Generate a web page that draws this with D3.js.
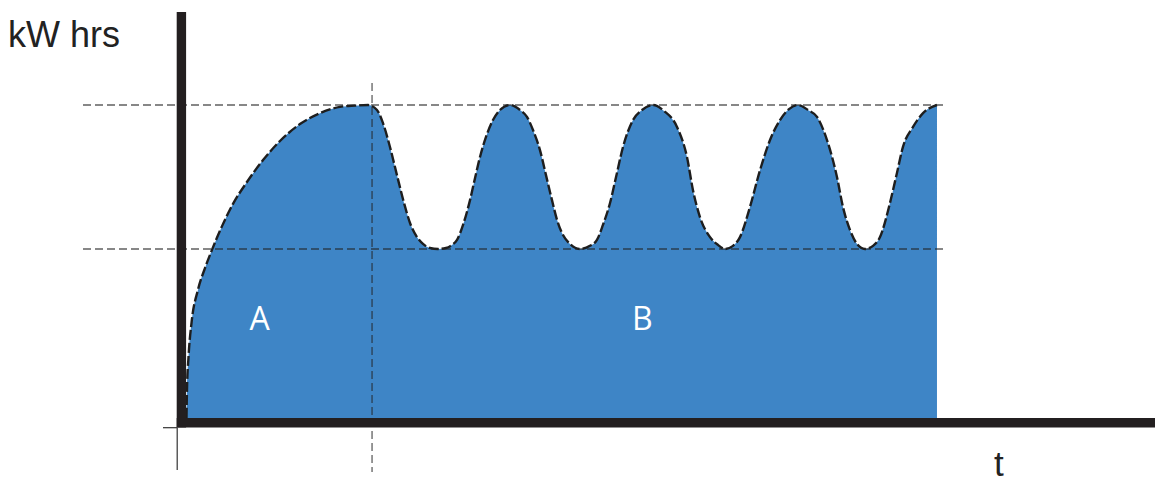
<!DOCTYPE html>
<html><head><meta charset="utf-8">
<script src="https://cdn.jsdelivr.net/npm/d3@7/dist/d3.min.js"></script>
<style>html,body{margin:0;padding:0;background:#fff;overflow:hidden} svg{display:block}</style>
</head><body>
<svg id="chart" width="1155" height="484"></svg>
<script>
// ---- data ----
const rampHours = [0.05, 0.1, 0.26, 0.57, 1.24, 1.96, 2.68, 3.72, 4.85, 6.29, 7.95, 9.7, 11.76, 13.83, 15.89, 17.44, 18.78];
const rampKw    = [0, 8.9, 19.5, 30.4, 41, 47.9, 53.7, 61.3, 68.4, 75.4, 82.4, 88.5, 93.9, 97.4, 99.4, 99.8, 100];

const cycleHours = [19.71, 20.33, 21.05, 21.77, 22.5, 23.12, 23.84, 24.46, 25.18, 26.01,
  26.83, 27.45, 27.97, 28.59, 29.31, 29.83, 30.34, 30.96, 31.68, 32.4, 33.44,
  34.47, 35.19, 35.81, 36.53, 37.15, 37.77, 38.29, 38.8, 39.63, 40.66,
  41.69, 42.41, 43.03, 43.76, 44.38, 45.1, 46.13, 47.06, 48.19,
  49.33, 50.67, 51.7, 52.32, 53.04, 54.08, 54.9, 55.62,
  56.45, 57.17, 58.2, 59.24, 60.27, 61.3, 62.23, 63.16,
  64.19, 65.12, 66.15, 67.18, 67.8, 68.52, 69.25, 70.07,
  70.9, 71.62, 72.65, 73.37, 73.99, 75.03, 76.06, 77.5];
const cycleKw = [98.4, 94.2, 86.6, 77.6, 68.7, 62.3, 57.8, 55.6, 54.3, 54,
  54.3, 55.3, 56.9, 61.7, 69.6, 76.7, 83.4, 89.8, 95.2, 98.4, 100,
  98.4, 96.2, 92, 85.6, 77.6, 69.6, 63.3, 59.1, 55.6, 54,
  55, 56.9, 61.7, 68.7, 77, 86.6, 95.2, 98.4, 100,
  98.1, 93, 83.4, 72.8, 64.2, 57.8, 55.3, 54,
  55, 57.8, 67.4, 79.2, 88.8, 95.2, 98.7, 100,
  98.4, 96.2, 88.8, 77, 67.4, 60.1, 55.6, 54,
  55, 57.8, 68.7, 78.3, 86.6, 93, 97.4, 100];

const peakLevel = 100;
const baseLevel = 54;
const transitionHour = 19.2;
const regionLabels = ["A", "B"];
const regionLabelHours = [7.6, 47.1];
const regionLabelKw = 32;
const yAxisTitle = "kW hrs";
const xAxisTitle = "t";

// ---- build ----
const hours = rampHours.concat(cycleHours);
const kw = rampKw.concat(cycleKw);
const data = hours.map((h, i) => ({h, k: kw[i]}));

const svg = d3.select("#chart");
const x = d3.scaleLinear().domain([0, 100]).range([186, 1155]);
const y = d3.scaleLinear().domain([0, 100]).range([418, 105]);

const axisColor = "#231f20";
const fillColor = "#3e85c6";

// area fill
const area = d3.area().x(d => x(d.h)).y0(y(0)).y1(d => y(d.k)).curve(d3.curveMonotoneX);
svg.append("path").datum(data).attr("d", area).attr("fill", fillColor);

// dashed outline
const line = d3.line().x(d => x(d.h)).y(d => y(d.k)).curve(d3.curveMonotoneX);
svg.append("path").datum(data).attr("d", line)
  .attr("fill", "none").attr("stroke", "#1e1e1e").attr("stroke-width", 2.4)
  .attr("stroke-dasharray", "10,3");

// reference dashed lines
const refG = svg.append("g").attr("stroke", "#222").attr("stroke-opacity", 0.72)
  .attr("stroke-width", 1.3).attr("stroke-dasharray", "8,4");
[peakLevel, baseLevel].forEach(v => {
  refG.append("line").attr("x1", 83).attr("x2", 945).attr("y1", y(v)).attr("y2", y(v));
});
refG.append("line").attr("x1", x(transitionHour)).attr("x2", x(transitionHour))
  .attr("y1", 83).attr("y2", 472);

// axes (thick bars)
svg.append("line").attr("x1", x(0) - 4.6).attr("x2", x(0) - 4.6)
  .attr("y1", 12).attr("y2", y(0) + 9.5)
  .attr("stroke", axisColor).attr("stroke-width", 9.4);
svg.append("line").attr("x1", x(0) - 9.3).attr("x2", 1155)
  .attr("y1", y(0) + 4.7).attr("y2", y(0) + 4.7)
  .attr("stroke", axisColor).attr("stroke-width", 9.4);

// thin corner marks
svg.append("line").attr("x1", 163).attr("x2", x(0) - 8.8)
  .attr("y1", y(0) + 9.7).attr("y2", y(0) + 9.7)
  .attr("stroke", "#333").attr("stroke-width", 1.2);
svg.append("line").attr("x1", x(0) - 8.8).attr("x2", x(0) - 8.8)
  .attr("y1", y(0) + 9.7).attr("y2", 470)
  .attr("stroke", "#333").attr("stroke-width", 1.2);

// region labels
svg.selectAll("text.region").data(regionLabels).enter().append("text")
  .attr("class", "region")
  .attr("x", (d, i) => x(regionLabelHours[i]))
  .attr("y", y(regionLabelKw))
  .attr("text-anchor", "middle").attr("dominant-baseline", "central")
  .attr("fill", "#fff")
  .style("font-family", "'Open Sans', sans-serif").style("font-size", "32px")
  .text(d => d);

// axis titles
svg.append("text").attr("x", 8).attr("y", 47)
  .style("font-family", "'Liberation Sans', Arial, sans-serif").style("font-size", "36px")
  .attr("fill", "#222").text(yAxisTitle);
svg.append("text").attr("x", 994).attr("y", 476)
  .style("font-family", "'Liberation Sans', Arial, sans-serif").style("font-size", "35px")
  .attr("fill", "#222").text(xAxisTitle);
</script>
</body></html>
